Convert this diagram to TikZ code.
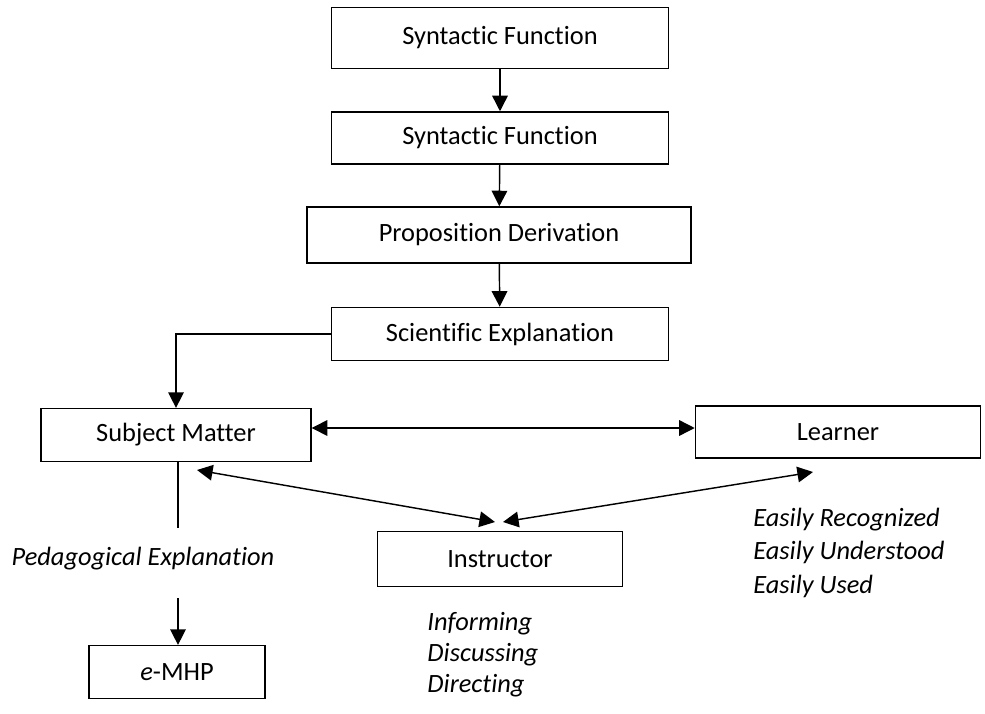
\documentclass[tikz,border=0pt]{standalone}
\usepackage{fontspec}
\setmainfont[Ligatures={NoCommon}]{Carlito}
\usetikzlibrary{arrows.meta, positioning, calc}
\tikzset{
    % Box styles - plain frames
    stage/.style={
        rectangle,
        draw=black,
        fill=white,
        line width=0.6pt,
        minimum width=140.4pt,
        minimum height=22pt,
        inner sep=2pt,
        align=center,
        font=\fontsize{11}{13}\selectfont
    },
    actor/.style={
        stage,
        minimum height=22pt
    },
    % Text lists
    notes/.style={
        align=left,
        inner sep=0pt,
        font=\itshape\fontsize{11}{13}\selectfont
    },
    % Arrow styles
    arrow/.style={
        -{Triangle[length=6.5pt, width=6.5pt]},
        line width=0.6pt,
        draw=black
    },
    twoway/.style={
        {Triangle[length=6.5pt, width=6.5pt]}-{Triangle[length=6.5pt, width=6.5pt]},
        line width=0.6pt,
        draw=black
    },
    plainline/.style={
        line width=0.6pt,
        draw=black
    }
}
\begin{document}
\begin{tikzpicture}[x=0.4167pt, y=-0.4167pt]
    \useasboundingbox (0,0) rectangle (985,713);

    % Chain of stages
    \node[stage, minimum height=25.4pt] (syn1) at (500,38) {Syntactic Function};
    \node[stage, minimum height=21.7pt] (syn2) at (500,138) {Syntactic Function};
    \node[stage, minimum width=160pt, minimum height=23.3pt] (prop) at (499,235) {Proposition Derivation};
    \node[stage, minimum height=22.1pt] (sci) at (500,334) {Scientific Explanation};

    % Actors
    \node[actor, minimum width=112.5pt] (subj) at (176,435) {Subject Matter};
    \node[actor, minimum width=118.8pt, minimum height=21.7pt] (lrn) at (838,432) {Learner};
    \node[actor, minimum width=102.1pt, minimum height=22.9pt] (inst) at (500,559) {Instructor};
    \node[actor, minimum width=73.3pt] (emhp) at (177,672) {\textit{e}-MHP};

    % Labels
    \node[notes] (ped) at (143,559) {Pedagogical Explanation};
    \node[notes, anchor=north west, font=\itshape\fontsize{11}{12.9}\selectfont] (instlist) at (427,612)
        {Informing\\Discussing\\Directing};
    \node[notes, anchor=north west, font=\itshape\fontsize{11}{13.8}\selectfont] (lrnlist) at (753,508)
        {Easily Recognized\\Easily Understood\\Easily Used};

    % Free ends
    \coordinate (pedtop) at (178,528);
    \coordinate (pedbot) at (178,598);
    \coordinate (subjtip) at (197,470);
    \coordinate (instl) at (495,522);
    \coordinate (instr) at (503,522);
    \coordinate (lrntip) at (813,472);

    \draw[arrow] (syn1) -- (syn2);
    \draw[arrow] (syn2) -- (prop);
    \draw[arrow] (prop) -- (sci);
    \draw[arrow] (sci.west) -| (subj.north);
    \draw[twoway] (subj.east |- 0,428) -- (lrn.west |- 0,428);
    \draw[plainline] (subj.south -| pedtop) -- (pedtop);
    \draw[arrow] (pedbot) -- (emhp.north -| pedbot);
    \draw[twoway] (subjtip) -- (instl);
    \draw[twoway] (instr) -- (lrntip);
\end{tikzpicture}
\end{document}
